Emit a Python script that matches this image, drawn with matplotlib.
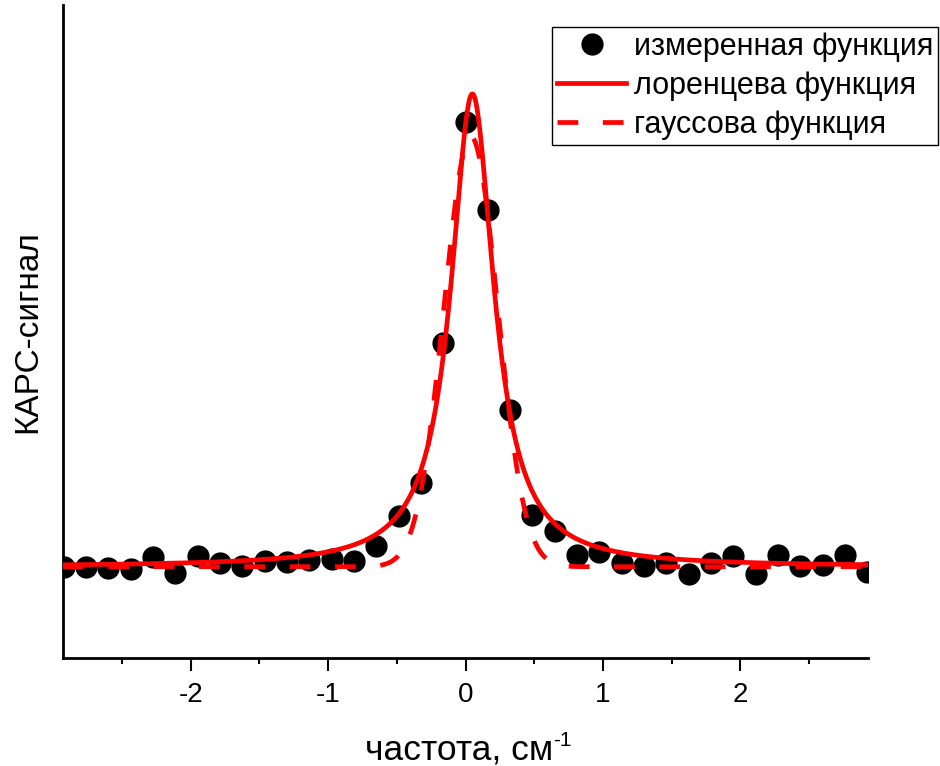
import numpy as np
import matplotlib
matplotlib.use("Agg")
import matplotlib.pyplot as plt

plt.rcParams['font.family'] = ['Liberation Sans', 'DejaVu Sans']

# measured data (arbitrary units, baseline ~0, peak ~1)
x_meas = [-2.925, -2.7625, -2.6, -2.4375, -2.275, -2.1125, -1.95, -1.7875, -1.625,
          -1.4625, -1.3, -1.1375, -0.975, -0.8125, -0.65, -0.4875, -0.325, -0.1625,
          0.0, 0.1625, 0.325, 0.4875, 0.65, 0.8125, 0.975, 1.1375, 1.3, 1.4625,
          1.625, 1.7875, 1.95, 2.1125, 2.275, 2.4375, 2.6, 2.7625, 2.925]
y_meas = [-0.004, -0.004, -0.006, -0.008, 0.017, -0.017, 0.019, 0.004, -0.002,
          0.008, 0.006, 0.011, 0.013, 0.008, 0.040, 0.104, 0.173, 0.469,
          0.937, 0.751, 0.328, 0.106, 0.072, 0.021, 0.027, 0.004, -0.002, 0.004,
          -0.019, 0.004, 0.019, -0.019, 0.021, -0.002, 0.000, 0.021, -0.015]

# fit parameters
lor_params = dict(amp=1.0, x0=0.05, hwhm=0.19, base=-0.004)
gau_params = dict(amp=0.91, x0=0.039, sigma=0.195, base=-0.004)

labels = ['измеренная функция', 'лоренцева функция', 'гауссова функция']
xticks = [-2, -1, 0, 1, 2]
xlabel = 'частота, см'
xlabel_sup = '-1'
ylabel = 'КАРС-сигнал'

xf = np.linspace(-2.93, 2.93, 1200)
lor = lor_params['base'] + lor_params['amp'] / (1 + ((xf - lor_params['x0']) / lor_params['hwhm']) ** 2)
gau = gau_params['base'] + gau_params['amp'] * np.exp(-(xf - gau_params['x0']) ** 2 / (2 * gau_params['sigma'] ** 2))

fig = plt.figure(figsize=(9.4, 7.66), dpi=100)
ax = fig.add_axes([63 / 940, 1 - 658 / 766, (868 - 63) / 940, (658 - 5) / 766])

ax.plot(x_meas, y_meas, 'o', color='black', markersize=15, label=labels[0], zorder=2)
ax.plot(xf, lor, '-', color='#ff0000', lw=3.4, label=labels[1], zorder=3)
ax.plot(xf, gau, '--', color='#ff0000', lw=3.4, dashes=(4.4, 5.2), label=labels[2], zorder=3)

ax.set_xlim(-2.93, 2.93)
ax.set_ylim(-0.197, 1.184)

for s in ['top', 'right']:
    ax.spines[s].set_visible(False)
ax.spines['left'].set_linewidth(2)
ax.spines['bottom'].set_linewidth(2)
ax.set_yticks([])
ax.set_xticks(xticks)
ax.set_xticklabels([str(t) for t in xticks])
ax.set_xticks(np.arange(-2.5, 3.0, 1.0), minor=True)
ax.tick_params(axis='x', which='major', length=9, width=1.5, labelsize=20, pad=8, direction='out')
ax.tick_params(axis='x', which='minor', length=4.5, width=1.5, direction='out')

ax.set_ylabel(ylabel, fontsize=24, labelpad=14)
fig.text(365 / 940, 1 - 759 / 766, xlabel, fontsize=25.5, ha='left', va='baseline')
fig.text(553 / 940, 1 - 746 / 766, xlabel_sup, fontsize=15, ha='left', va='baseline')

leg = ax.legend(loc='upper right', bbox_to_anchor=(938 / 940, 1 - 27 / 766),
                bbox_transform=fig.transFigure, fontsize=22, frameon=True,
                fancybox=False, edgecolor='black', framealpha=1,
                handlelength=2.26, handletextpad=0.26, borderpad=0.15,
                labelspacing=0.3, borderaxespad=0)
leg.get_frame().set_linewidth(1.0)

fig.savefig('out.png', dpi=100)
